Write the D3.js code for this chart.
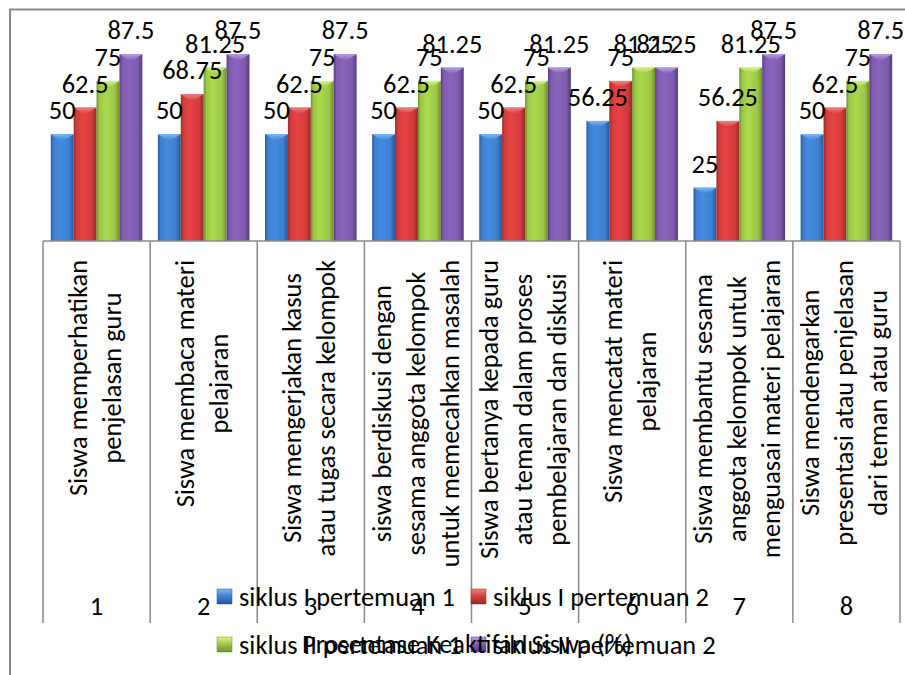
<!DOCTYPE html>
<html>
<head>
<meta charset="utf-8">
<script src="https://cdn.jsdelivr.net/npm/d3@7"></script>
<style>
  html, body { margin: 0; padding: 0; background: #fff; }
  svg { display: block; }
  text { font-family: Carlito, Calibri, Lato, "Open Sans", sans-serif; fill: #000; }
</style>
</head>
<body>
<svg id="chart" width="905" height="675"></svg>
<script>
// ---- data ----
const categories = ["1", "2", "3", "4", "5", "6", "7", "8"];
const categoryLabels = [
  ["Siswa memperhatikan", "penjelasan guru"],
  ["Siswa membaca materi", "pelajaran"],
  ["Siswa mengerjakan kasus", "atau tugas secara kelompok"],
  ["siswa berdiskusi dengan", "sesama anggota kelompok", "untuk memecahkan masalah"],
  ["Siswa bertanya kepada guru", "atau teman dalam proses", "pembelajaran dan diskusi"],
  ["Siswa mencatat materi", "pelajaran"],
  ["Siswa membantu sesama", "anggota kelompok untuk", "menguasai materi pelajaran"],
  ["Siswa mendengarkan", "presentasi atau penjelasan", "dari teman atau guru"]
];
const seriesNames = ["siklus I pertemuan 1", "siklus I pertemuan 2", "siklus II pertemuan 1", "siklus II pertemuan 2"];
const siklus1pertemuan1 = [50, 50, 50, 50, 50, 56.25, 25, 50];
const siklus1pertemuan2 = [62.5, 68.75, 62.5, 62.5, 62.5, 75, 56.25, 62.5];
const siklus2pertemuan1 = [75, 81.25, 75, 75, 75, 81.25, 81.25, 75];
const siklus2pertemuan2 = [87.5, 87.5, 87.5, 81.25, 81.25, 81.25, 87.5, 87.5];
const seriesValues = [siklus1pertemuan1, siklus1pertemuan2, siklus2pertemuan1, siklus2pertemuan2];
const axisTitle = "Prosentase Keaktifan Siswa (%)";

// ---- styles ----
const colors = [
  { mid: "#3d7fcf", edge: "#28579a", light: "#79b6f5" },
  { mid: "#d23c3c", edge: "#972929", light: "#f28080" },
  { mid: "#9cc747", edge: "#6c8f2c", light: "#d8f28a" },
  { mid: "#7e5bab", edge: "#553b7f", light: "#bb9ce6" }
];

const svg = d3.select("#chart");
svg.append("rect").attr("width", 905).attr("height", 675).attr("fill", "#fff");

// font size calibration: legend entry width in reference ~216px
const probe = svg.append("text").attr("font-size", 26).text("siklus I pertemuan 1");
const pw = probe.node().getComputedTextLength();
probe.remove();
const FS = pw > 0 ? 26 * 216 / pw : 24;

const defs = svg.append("defs");
colors.forEach((c, i) => {
  const g = defs.append("linearGradient").attr("id", "bar" + i)
    .attr("x1", "0").attr("x2", "1").attr("y1", "0").attr("y2", "0");
  g.append("stop").attr("offset", "0").attr("stop-color", c.edge);
  g.append("stop").attr("offset", "0.12").attr("stop-color", c.mid);
  g.append("stop").attr("offset", "0.4").attr("stop-color", d3.color(c.mid).brighter(0.25));
  g.append("stop").attr("offset", "0.8").attr("stop-color", c.mid);
  g.append("stop").attr("offset", "1").attr("stop-color", c.edge);
  const t = defs.append("linearGradient").attr("id", "top" + i)
    .attr("x1", "0").attr("x2", "0").attr("y1", "0").attr("y2", "1");
  t.append("stop").attr("offset", "0").attr("stop-color", c.light);
  t.append("stop").attr("offset", "1").attr("stop-color", c.mid);
  const m = defs.append("linearGradient").attr("id", "mk" + i)
    .attr("x1", "0").attr("x2", "0").attr("y1", "0").attr("y2", "1");
  m.append("stop").attr("offset", "0").attr("stop-color", c.light);
  m.append("stop").attr("offset", "0.5").attr("stop-color", c.mid);
  m.append("stop").attr("offset", "1").attr("stop-color", c.edge);
});

// ---- scales ----
const x0 = d3.scaleBand().domain(categories).range([43, 900]).paddingInner(0).paddingOuter(0);
const x1 = d3.scaleBand().domain(d3.range(seriesNames.length)).range([0, x0.bandwidth()])
  .paddingInner(0).paddingOuter(0.34);
const y = d3.scaleLinear().domain([0, 100]).range([241, 27.5]);

// ---- outer border ----
svg.append("path").attr("d", "M10,675 L10,9.5 L905,9.5")
  .attr("fill", "none").attr("stroke", "#8a8a8a").attr("stroke-width", 2);

// ---- bars ----
const groups = svg.append("g").selectAll("g").data(categories).join("g")
  .attr("transform", d => `translate(${x0(d)},0)`);

groups.each(function (cat, ci) {
  const g = d3.select(this);
  seriesValues.forEach((vals, si) => {
    const v = vals[ci];
    const bx = x1(si), bw = x1.bandwidth();
    const top = y(v), base = y(0);
    g.append("rect").attr("x", bx).attr("y", top).attr("width", bw).attr("height", base - top)
      .attr("fill", `url(#bar${si})`);
    g.append("path")
      .attr("d", `M${bx},${top} L${bx + bw},${top} L${bx + bw / 2},${top + 7} Z`)
      .attr("fill", `url(#top${si})`);
  });
});

// ---- data labels ----
groups.each(function (cat, ci) {
  const g = d3.select(this);
  seriesValues.forEach((vals, si) => {
    const v = vals[ci];
    g.append("text")
      .attr("x", x1(si) + x1.bandwidth() / 2)
      .attr("y", y(v) - 15)
      .attr("text-anchor", "middle")
      .attr("font-size", FS)
      .text(v);
  });
});

// ---- category axis (multi-level table) ----
const axisG = svg.append("g");
axisG.append("line").attr("x1", x0.range()[0]).attr("x2", x0.range()[1])
  .attr("y1", y(0)).attr("y2", y(0)).attr("stroke", "#8a8a8a").attr("stroke-width", 1.5);
const bounds = categories.map(c => x0(c)).concat([x0.range()[1]]);
axisG.selectAll("line.sep").data(bounds).join("line").attr("class", "sep")
  .attr("x1", d => d).attr("x2", d => d).attr("y1", y(0)).attr("y2", 623)
  .attr("stroke", "#8a8a8a").attr("stroke-width", 1.5);

const lineSpacing = 34;
categoryLabels.forEach((lines, ci) => {
  const cx = x0(categories[ci]) + x0.bandwidth() / 2;
  const t = axisG.append("text").attr("font-size", FS).attr("text-anchor", "middle");
  const n = lines.length;
  // measure longest line to anchor the block at top
  const widths = lines.map(l => {
    const p = axisG.append("text").attr("font-size", FS).text(l);
    const w = p.node().getComputedTextLength();
    p.remove();
    return w;
  });
  const maxW = d3.max(widths);
  const cy = 260 + maxW / 2;
  lines.forEach((l, i) => {
    const bx = cx + 7 + (i - (n - 1) / 2) * lineSpacing;
    axisG.append("text").attr("font-size", FS).attr("text-anchor", "middle")
      .attr("transform", `translate(${bx},${cy}) rotate(-90)`)
      .text(l);
  });
  t.remove();
});

axisG.selectAll("text.num").data(categories).join("text").attr("class", "num")
  .attr("x", d => x0(d) + x0.bandwidth() / 2).attr("y", 615)
  .attr("text-anchor", "middle").attr("font-size", FS).text(d => d);

// ---- legend ----
const legendCols = [217, 471], legendRows = [589, 637];
const legend = svg.append("g");
seriesNames.forEach((name, i) => {
  const lx = legendCols[i % 2], ly = legendRows[Math.floor(i / 2)];
  legend.append("rect").attr("x", lx).attr("y", ly).attr("width", 15).attr("height", 15)
    .attr("fill", `url(#mk${i})`).attr("stroke", colors[i].edge).attr("stroke-width", 0.5);
  legend.append("text").attr("x", lx + 22).attr("y", ly + 17).attr("font-size", FS).text(name);
});

// ---- axis title ----
svg.append("text").attr("x", 467).attr("y", 653).attr("text-anchor", "middle")
  .attr("font-size", FS).text(axisTitle);
</script>
</body>
</html>
